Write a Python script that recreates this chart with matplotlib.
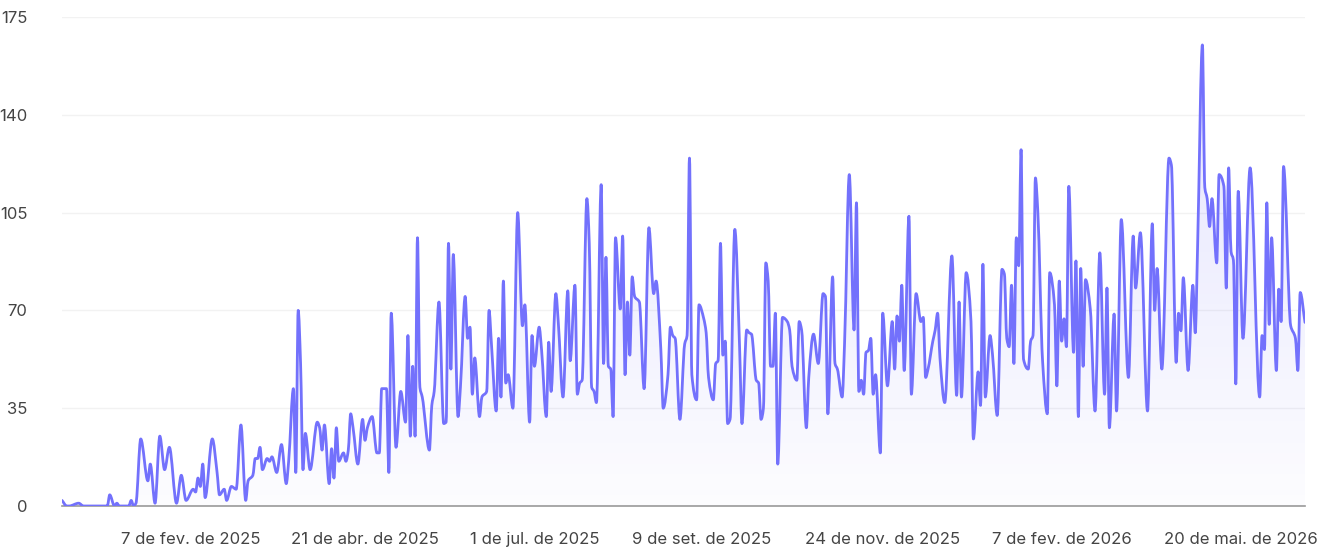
import numpy as np
import matplotlib.pyplot as plt
from matplotlib.colors import LinearSegmentedColormap
from matplotlib.path import Path
from matplotlib.patches import PathPatch

plt.rcParams["font.family"] = ["Inter", "DejaVu Sans"]

# day index (from the first point) and value
day = [0, 2, 3, 7, 9, 19, 20, 22, 23, 24, 28, 29, 30, 31, 33, 36, 37, 39, 41, 43,
       45, 48, 50, 52, 55, 56, 57, 58, 59, 60, 63, 65, 66, 68, 69, 71, 73, 75, 77, 78,
       80, 81, 82, 83, 84, 86, 87, 88, 90, 92, 94, 95, 97, 98, 99, 100, 101, 102, 104, 107,
       108, 109, 110, 112, 113, 114, 115, 116, 118, 119, 120, 121, 122, 124, 126, 127, 128, 130, 132, 133,
       134, 136, 137, 138, 140, 142, 144, 145, 146, 147, 148, 149, 150, 151, 154, 155, 156, 158, 160, 161,
       162, 163, 164, 166, 167, 169, 170, 171, 172, 173, 175, 176, 178, 179, 180, 182, 183, 184, 185, 186,
       187, 189, 191, 193, 194, 196, 197, 198, 200, 201, 203, 204, 205, 207, 208, 210, 212, 213, 215, 216,
       217, 218, 220, 221, 222, 223, 224, 226, 227, 228, 229, 230, 231, 232, 234, 235, 236, 237, 238, 239,
       240, 242, 244, 246, 248, 249, 251, 252, 254, 255, 256, 257, 259, 261, 262, 263, 264, 266, 267, 269,
       270, 271, 273, 274, 275, 276, 277, 278, 279, 280, 282, 284, 285, 287, 288, 289, 291, 292, 293, 294,
       295, 296, 297, 298, 299, 300, 302, 304, 305, 306, 308, 309, 310, 312, 313, 315, 317, 319, 320, 321,
       323, 324, 325, 327, 328, 330, 332, 333, 334, 335, 336, 337, 338, 339, 340, 341, 343, 344, 346, 348,
       349, 350, 351, 352, 353, 355, 356, 358, 360, 361, 362, 363, 365, 366, 367, 368, 370, 373, 375, 376,
       377, 379, 381, 382, 384, 385, 386, 387, 389, 390, 392, 394, 395, 396, 397, 398, 399, 400, 401, 402,
       403, 405, 406, 407, 408, 409, 411, 413, 414, 416, 417, 418, 419, 420, 421, 422, 424, 425, 426, 427,
       428, 429, 431, 433, 435, 437, 438, 439, 441, 442, 444, 447, 449, 450, 452, 455, 457, 458, 459, 461,
       464, 465, 467, 468, 469, 470, 472, 474, 475, 476, 478, 479, 480, 481, 482, 484, 485, 487, 488, 489,
       490, 491, 492, 493, 495, 498, 502, 503, 504, 505, 506, 507, 509, 510, 511, 512, 515, 517, 518, 519,
       521]
visits = [2, 0, 0, 1, 0, 0, 4, 0, 1, 0, 0, 2, 0, 1, 24, 9, 15, 1, 25, 13,
          21, 1, 11, 2, 6, 5, 10, 7, 15, 3, 24, 12, 4, 6, 2, 7, 6, 29, 2, 9,
          11, 17, 17, 21, 13, 17, 16, 17.6, 12, 22, 8, 16, 42, 12, 70, 51, 13, 26, 13, 30,
          28, 20, 29, 8, 20.5, 10, 28, 16, 19, 16, 20, 33, 28, 15, 31, 23.5, 28, 32, 19, 19,
          42, 42, 12, 69, 21, 41, 30, 61, 25, 50, 25, 96, 42.5, 39, 20, 36, 41, 73, 29.5, 30,
          94, 49, 90, 32, 42.5, 75, 60, 64, 40, 53, 32, 39, 41, 70, 58, 34, 60, 39, 80.5, 44,
          47, 35, 105, 64.5, 72, 30, 61, 50, 64, 56, 32, 58.6, 41, 76, 66, 39, 77, 52, 79, 40,
          44, 45, 110, 94, 42.5, 41, 37, 115, 51, 89, 50, 49, 32, 96, 70.5, 96.6, 47, 73, 54, 82,
          75, 73, 42, 99.6, 76, 80.5, 56, 35, 47, 64, 61, 60, 31, 58, 61, 124.5, 47, 38, 72, 67,
          62, 46, 38, 51, 52, 94, 54, 59, 29.5, 31, 99, 57, 29.5, 63, 62, 61.5, 45, 44, 31, 35,
          87, 80.5, 50, 50, 69, 15, 67.5, 66, 63, 50, 45, 66, 63, 28, 46, 61.5, 51, 76, 75, 33,
          82, 51, 49, 39, 58, 118.6, 63, 108.5, 41, 45, 40, 55, 55.6, 60, 40, 47, 19, 69, 43, 66,
          49, 68, 59, 79, 48.5, 103.7, 40, 76, 66, 67.5, 46, 49, 59, 63, 69, 53, 37, 89.5, 39.6, 73,
          39, 83.5, 66, 24, 48, 36, 86.5, 39, 61, 54.4, 32.4, 84.7, 83, 60, 57, 79, 51, 96, 86, 127.5,
          52.6, 49, 59, 61, 117.4, 105.5, 52, 33, 83.5, 72, 43, 80.5, 59, 67, 57, 114.4, 55, 87.7, 32, 85,
          50, 81, 70.5, 34, 90.6, 40, 78, 28, 68.7, 34, 102.5, 46, 96.6, 78, 97.8, 34, 101, 70, 85, 49,
          124.5, 122, 51.4, 69, 62.7, 81.7, 48.5, 79, 62, 93.6, 165, 114, 110, 100, 110, 87, 118.6, 114.4, 78, 121,
          91, 88, 43.7, 112.6, 60, 121, 39, 61, 56, 108.5, 65, 96, 48.5, 77.6, 66, 121.5, 64.5, 60, 48.5, 76.4,
          65.7]

tick_days = [54, 127, 198, 268, 344, 419, 494]
tick_labels = ["7 de fev. de 2025", "21 de abr. de 2025", "1 de jul. de 2025",
               "9 de set. de 2025", "24 de nov. de 2025", "7 de fev. de 2026",
               "20 de mai. de 2026"]
y_ticks = [0, 35, 70, 105, 140, 175]

line_color = "#7371FC"


def monotone_path(xs, ys):
    # smooth monotone cubic curve through the points (drawing only)
    xs = np.asarray(xs, float)
    ys = np.asarray(ys, float)
    h = np.diff(xs)
    d = np.diff(ys) / h
    m = np.zeros_like(ys)
    m[0], m[-1] = d[0], d[-1]
    for i in range(1, len(xs) - 1):
        if d[i - 1] * d[i] > 0:
            w1 = 2 * h[i] + h[i - 1]
            w2 = h[i] + 2 * h[i - 1]
            m[i] = (w1 + w2) / (w1 / d[i - 1] + w2 / d[i])
    verts = [(xs[0], ys[0])]
    codes = [Path.MOVETO]
    for i in range(len(xs) - 1):
        verts += [(xs[i] + h[i] / 3, ys[i] + m[i] * h[i] / 3),
                  (xs[i + 1] - h[i] / 3, ys[i + 1] - m[i + 1] * h[i] / 3),
                  (xs[i + 1], ys[i + 1])]
        codes += [Path.CURVE4] * 3
    return verts, codes


fig = plt.figure(figsize=(13.32, 5.51), dpi=100)
ax = fig.add_axes([62 / 1332, 45 / 551, 1243 / 1332, 489 / 551])

ax.set_xlim(0, max(day))
ax.set_ylim(0, 175)

verts, codes = monotone_path(day, visits)
line_path = Path(verts, codes)
area_path = Path(verts + [(max(day), 0), (0, 0), verts[0]],
                 codes + [Path.LINETO, Path.LINETO, Path.CLOSEPOLY])

# gradient fill under the line
cmap = LinearSegmentedColormap.from_list(
    "fade", [(0.45, 0.44, 0.99, 0.02), (0.45, 0.44, 0.99, 0.2)])
grad = np.linspace(0, 1, 256).reshape(-1, 1)
img = ax.imshow(grad, extent=[0, max(day), 0, 175], origin="lower",
                aspect="auto", cmap=cmap, zorder=1)
clip = PathPatch(area_path, transform=ax.transData, facecolor="none", lw=0)
ax.add_patch(clip)
img.set_clip_path(clip)

ax.add_patch(PathPatch(line_path, facecolor="none", edgecolor=line_color,
                       lw=2.0, joinstyle="round", capstyle="round", zorder=3))

ax.set_yticks(y_ticks)
ax.set_xticks(tick_days)
ax.set_xticklabels(tick_labels)
ax.grid(axis="y", color="#f2f2f2", lw=1)
ax.set_axisbelow(True)

for s in ["top", "right", "left"]:
    ax.spines[s].set_visible(False)
ax.spines["bottom"].set_color("#9a9a9a")
ax.spines["bottom"].set_linewidth(1.2)
ax.tick_params(axis="both", length=0, labelsize=12, colors="#444444")
ax.tick_params(axis="y", pad=25)
ax.tick_params(axis="x", pad=19)

fig.savefig("out.png", dpi=100, facecolor="white")
